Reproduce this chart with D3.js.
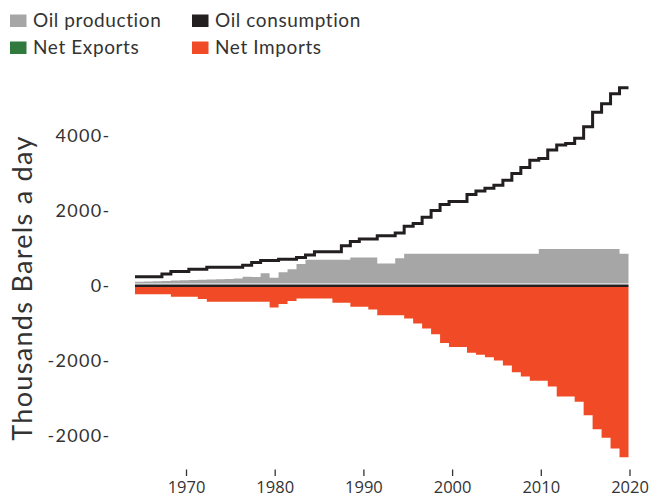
<!DOCTYPE html>
<html>
<head>
<meta charset="utf-8">
<script src="https://cdn.jsdelivr.net/npm/d3@7"></script>
<style>
  body { margin: 0; background: #fff; }
  svg { display: block; }
  text { font-family: Lato, "Open Sans", sans-serif; fill: #333; }
  .x-axis text { font-family: "Open Sans", "Noto Sans", sans-serif; }
</style>
</head>
<body>
<div class="canvas"></div>
<script>
const years = d3.range(1965, 2020);

// thousand barrels a day
const production = [
  105, 112, 120, 128, 138, 145, 150, 158, 165, 172,
  182, 190, 242, 235, 332, 215, 359, 440, 582, 690,
  690, 690, 690, 690, 752, 752, 752, 590, 590, 735,
  851, 851, 851, 851, 851, 851, 851, 851, 851, 851,
  851, 851, 851, 851, 851, 977, 977, 977, 977, 977,
  977, 977, 977, 977, 851
];
const consumption = [
  242, 242, 242, 314, 376, 376, 440, 440, 494, 494,
  494, 494, 547, 617, 671, 671, 708, 708, 752, 816,
  905, 905, 905, 1066, 1181, 1245, 1245, 1334, 1334, 1406,
  1584, 1656, 1826, 2005, 2166, 2247, 2247, 2435, 2524, 2596,
  2676, 2811, 2990, 3151, 3347, 3392, 3620, 3750, 3795, 3929,
  4242, 4627, 4851, 5119, 5280
];
const netImports = [
  -231, -231, -231, -231, -295, -295, -295, -357, -429, -429,
  -429, -429, -429, -429, -429, -580, -491, -411, -338, -338,
  -338, -338, -456, -456, -564, -564, -634, -787, -787, -787,
  -876, -1010, -1144, -1297, -1530, -1637, -1637, -1788, -1842, -1905,
  -1995, -2129, -2309, -2424, -2532, -2532, -2685, -2953, -2953, -3095,
  -3452, -3828, -4054, -4338, -4572
];

const xTicks = [1970, 1980, 1990, 2000, 2010, 2020];
const yTicks = [4000, 2000, 0, -2000, -4000];
const yTickLabels = ["4000-", "2000-", "0-", "-2000-", "-2000-"];

const legendItems = [
  { name: "Oil production", color: "#a6a6a6" },
  { name: "Oil consumption", color: "#231f20" },
  { name: "Net Exports", color: "#2f7a3c" },
  { name: "Net Imports", color: "#f04b26" }
];

const width = 651;
const height = 497;

const svg = d3
  .select(".canvas")
  .append("svg")
  .attr("width", width)
  .attr("height", height);

//scales
const x = d3.scaleBand().domain(years).range([135, 628.5]);
const xAxisScale = d3.scaleLinear().domain([1970, 2020]).range([186, 629.5]);
const y = d3.scaleLinear().domain([-4000, 4000]).range([435.7, 135.7]);

// step points, last year carried to the end of its band
const steps = (vals) => {
  const pts = years.map((yr, i) => ({ x: x(yr), v: vals[i] }));
  pts.push({ x: x.range()[1], v: vals[vals.length - 1] });
  return pts;
};

const area = (base) =>
  d3
    .area()
    .curve(d3.curveStepAfter)
    .x((d) => d.x)
    .y0(base)
    .y1((d) => y(d.v));

svg
  .append("path")
  .datum(steps(production))
  .attr("fill", "#a6a6a6")
  .attr("d", area(y(0) - 2.2));

svg
  .append("path")
  .datum(steps(netImports))
  .attr("fill", "#f04b26")
  .attr("d", area(y(0) + 1));

//zero line
svg
  .append("line")
  .attr("x1", x.range()[0])
  .attr("x2", x.range()[1])
  .attr("y1", y(0))
  .attr("y2", y(0))
  .attr("stroke", "#231f20")
  .attr("stroke-width", 2.5);

//consumption line
const line = d3
  .line()
  .curve(d3.curveStepAfter)
  .x((d) => d.x)
  .y((d) => y(d.v));

svg
  .append("path")
  .datum(steps(consumption))
  .attr("fill", "none")
  .attr("stroke", "#231f20")
  .attr("stroke-width", 3)
  .attr("d", line);

//axes
const xAxis = d3
  .axisBottom(xAxisScale)
  .tickValues(xTicks)
  .tickFormat(d3.format("d"))
  .tickSize(6.5)
  .tickPadding(5.5);

const xAxisGroup = svg
  .append("g")
  .attr("class", "x-axis")
  .attr("transform", "translate(0,469.5)")
  .call(xAxis);
xAxisGroup.select(".domain").remove();
xAxisGroup.selectAll("line").attr("stroke", "#333").attr("stroke-width", 1.3);
xAxisGroup
  .selectAll("text")
  .attr("fill", "#333")
  .style("font-size", "16.5px");

const yAxis = d3
  .axisLeft(y)
  .tickValues(yTicks)
  .tickFormat((d, i) => yTickLabels[i])
  .tickSize(0)
  .tickPadding(0);

const yAxisGroup = svg
  .append("g")
  .attr("class", "y-axis")
  .attr("transform", "translate(110.5,0)")
  .call(yAxis);
yAxisGroup.select(".domain").remove();
yAxisGroup
  .selectAll("text")
  .attr("fill", "#333")
  .style("font-size", "18px")
  .style("letter-spacing", "1.3px");

svg
  .append("text")
  .attr("transform", "translate(31.5,288) rotate(-90)")
  .attr("text-anchor", "middle")
  .style("font-size", "27px")
  .style("letter-spacing", "1.3px")
  .text("Thousands Barels a day");

//legend
const legend = svg
  .selectAll(".legend")
  .data(legendItems)
  .enter()
  .append("g")
  .attr("class", "legend")
  .attr("transform", (d, i) => `translate(${i % 2 ? 192 : 10},${i < 2 ? 14.5 : 41.5})`);

legend
  .append("rect")
  .attr("width", 16.5)
  .attr("height", 12.5)
  .attr("fill", (d) => d.color);

legend
  .append("text")
  .attr("x", 23)
  .attr("y", 12.8)
  .style("font-size", "19px")
  .style("letter-spacing", "0.6px")
  .text((d) => d.name);
</script>
</body>
</html>
